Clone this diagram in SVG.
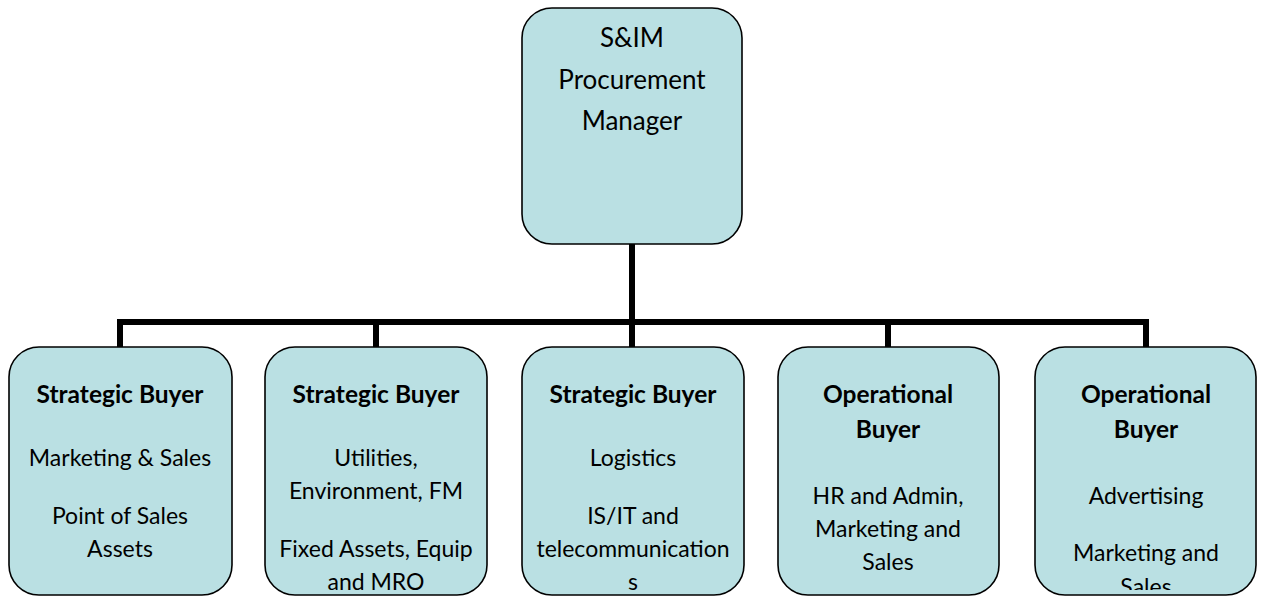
<svg xmlns="http://www.w3.org/2000/svg" width="1261" height="598" viewBox="0 0 1261 598">
<style>
.box{fill:#BAE0E3;stroke:#000;stroke-width:1.6}
.t{font-family:Lato,"Open Sans","Liberation Sans",sans-serif;fill:#000;text-anchor:middle}
.top{font-size:26px}
.h{font-size:24.5px;font-weight:bold}
.b{font-size:23px}
.conn{fill:none;stroke:#000;stroke-width:6}
</style>
<defs>
<clipPath id="c5"><rect x="1036" y="348" width="220" height="242"/></clipPath>
</defs>
<rect width="1261" height="598" fill="#fff"/>
<g id="connectors">
<path class="conn" d="M632 244V322"/>
<path class="conn" d="M120 347V322H1146V347"/>
<path class="conn" d="M376 322V347M632 322V347M888 322V347"/>
</g>
<g id="manager">
<rect class="box" x="522" y="8" width="220" height="236" rx="30"/>
<text class="t top" x="632" y="47">S&amp;IM</text>
<text class="t top" x="632" y="89">Procurement</text>
<text class="t top" x="632" y="130">Manager</text>
</g>
<g id="buyer1">
<rect class="box" x="9" y="347" width="223" height="248" rx="30"/>
<text class="t h" x="120" y="403">Strategic Buyer</text>
<text class="t b" x="120" y="466">Marketing &amp; Sales</text>
<text class="t b" x="120" y="524">Point of Sales</text>
<text class="t b" x="120" y="557">Assets</text>
</g>
<g id="buyer2">
<rect class="box" x="265" y="347" width="222" height="248" rx="30"/>
<text class="t h" x="376" y="403">Strategic Buyer</text>
<text class="t b" x="376" y="466">Utilities,</text>
<text class="t b" x="376" y="499">Environment, FM</text>
<text class="t b" x="376" y="557">Fixed Assets, Equip</text>
<text class="t b" x="376" y="590">and MRO</text>
</g>
<g id="buyer3">
<rect class="box" x="522" y="347" width="222" height="248" rx="30"/>
<text class="t h" x="633" y="403">Strategic Buyer</text>
<text class="t b" x="633" y="466">Logistics</text>
<text class="t b" x="633" y="524">IS/IT and</text>
<text class="t b" x="633" y="557">telecommunication</text>
<text class="t b" x="633" y="590">s</text>
</g>
<g id="buyer4">
<rect class="box" x="778" y="347" width="221" height="248" rx="30"/>
<text class="t h" x="888" y="403">Operational</text>
<text class="t h" x="888" y="438">Buyer</text>
<text class="t b" x="888" y="504">HR and Admin,</text>
<text class="t b" x="888" y="537">Marketing and</text>
<text class="t b" x="888" y="570">Sales</text>
</g>
<g id="buyer5">
<rect class="box" x="1035" y="347" width="221" height="248" rx="30"/>
<g clip-path="url(#c5)">
<text class="t h" x="1146" y="403">Operational</text>
<text class="t h" x="1146" y="438">Buyer</text>
<text class="t b" x="1146" y="504">Advertising</text>
<text class="t b" x="1146" y="561">Marketing and</text>
<text class="t b" x="1146" y="595">Sales</text>
</g>
</g>
</svg>
